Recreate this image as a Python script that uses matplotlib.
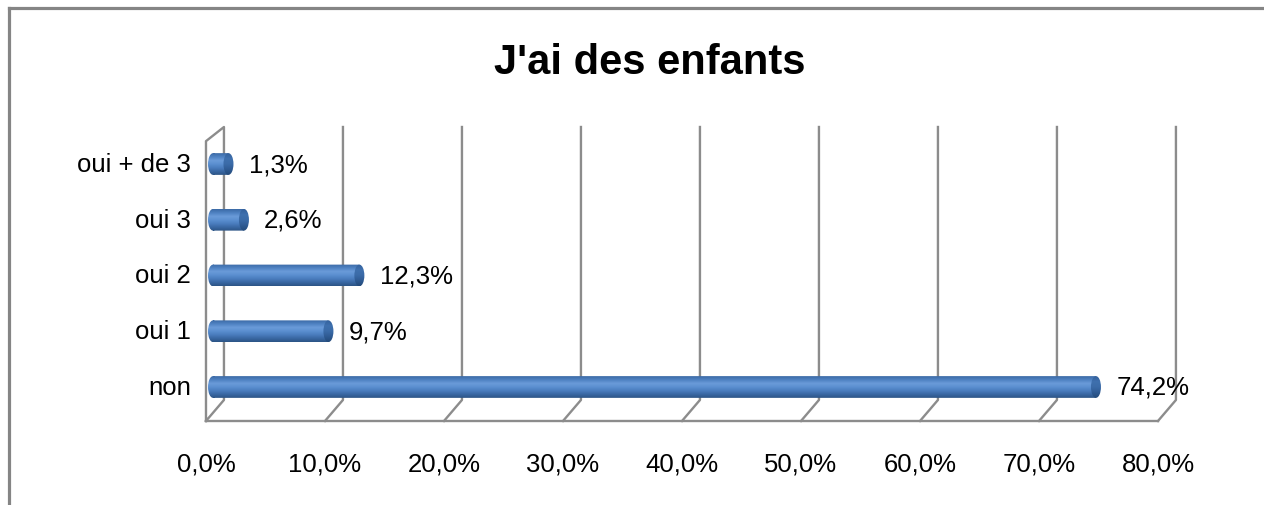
import numpy as np
import matplotlib
matplotlib.use("Agg")
import matplotlib.pyplot as plt
from matplotlib.patches import Rectangle, Ellipse, PathPatch
from matplotlib.path import Path
from matplotlib.colors import LinearSegmentedColormap
from matplotlib.lines import Line2D

plt.rcParams['font.family'] = ['Liberation Sans', 'DejaVu Sans']

# data
categories = ['non', 'oui 1', 'oui 2', 'oui 3', 'oui + de 3']
values = [74.2, 9.7, 12.3, 2.6, 1.3]
value_labels = ['74,2%', '9,7%', '12,3%', '2,6%', '1,3%']
ticks = [0, 10, 20, 30, 40, 50, 60, 70, 80]
tick_labels = ['0,0%', '10,0%', '20,0%', '30,0%', '40,0%', '50,0%', '60,0%', '70,0%', '80,0%']
title = "J'ai des enfants"

# fake 3d geometry (data units)
back_dx, front_dx = 0.92, -0.59
back_y0, front_y0 = -0.233, -0.61
back_top, front_top = 4.664, 4.41
bar_h = 0.39
cap_w = 0.84
grid_col = '#8c8c8c'

fig = plt.figure(figsize=(12.64, 5.06), dpi=100)
ax = fig.add_axes([0, 0, 1, 1])
ax.axis('off')

# walls / gridlines
lw = 1.7
ax.plot([front_dx, front_dx, back_dx, back_dx, front_dx],
        [front_y0, front_top, back_top, back_y0, front_y0], color=grid_col, lw=lw, zorder=1)
ax.plot([front_dx, ticks[-1] + front_dx], [front_y0, front_y0], color=grid_col, lw=lw, zorder=1)
for t in ticks[1:]:
    ax.plot([t + back_dx, t + back_dx, t + front_dx],
            [back_top, back_y0, front_y0], color=grid_col, lw=lw, zorder=1)

# cylinder bars
body_cmap = LinearSegmentedColormap.from_list(
    'body', ['#2c5486', '#3a68a3', '#4a7dbe', '#5b8fd0', '#6a9bd9', '#4f82c2', '#3b6aa6'])
cap_cmap = LinearSegmentedColormap.from_list(
    'cap', ['#244a7a', '#2f5b93', '#3b6ba8', '#3f70ae', '#34619c'])
grad = np.linspace(0, 1, 64).reshape(-1, 1)

for i, v in enumerate(values):
    y0, y1 = i - bar_h / 2, i + bar_h / 2
    # body: rectangle plus rounded left end
    rect = Rectangle((0, y0), v, bar_h)
    left = Ellipse((0, i), cap_w, bar_h)
    path = Path.make_compound_path(rect.get_path().transformed(rect.get_patch_transform()),
                                   left.get_path().transformed(left.get_patch_transform()))
    clip = PathPatch(path, facecolor='none', edgecolor='none')
    ax.add_patch(clip)
    im = ax.imshow(grad, cmap=body_cmap, aspect='auto', origin='lower',
                   extent=[-cap_w, v, y0, y1], zorder=3, interpolation='bilinear')
    im.set_clip_path(clip)
    # right cap
    cap = Ellipse((v, i), cap_w, bar_h, facecolor='none', edgecolor='none')
    ax.add_patch(cap)
    imc = ax.imshow(grad, cmap=cap_cmap, aspect='auto', origin='lower',
                    extent=[v - cap_w, v + cap_w, y0, y1], zorder=4, interpolation='bilinear')
    imc.set_clip_path(cap)
    ax.text(v + 1.7, i, value_labels[i], ha='left', va='center', fontsize=18.5, zorder=5)

# category labels
for i, c in enumerate(categories):
    ax.text(-1.85, i, c, ha='right', va='center', fontsize=18.5)

# x tick labels
for t, lab in zip(ticks, tick_labels):
    ax.text(t + front_dx, -1.38, lab, ha='center', va='center', fontsize=18.5)

ax.set_xlim(-17.9, 88.32)
ax.set_ylim(-2.117, 6.96)

fig.text(650 / 1264, 1 - 63 / 506, title, ha='center', va='center',
         fontsize=30, fontweight='bold')

# chart area border (top and left visible)
fig.add_artist(Line2D([8.5 / 1264, 8.5 / 1264], [0, 1 - 8.5 / 506], color='#858585', lw=2.3))
fig.add_artist(Line2D([8.5 / 1264, 1], [1 - 8.5 / 506, 1 - 8.5 / 506], color='#858585', lw=2.3))

fig.savefig('out.png', dpi=100)
